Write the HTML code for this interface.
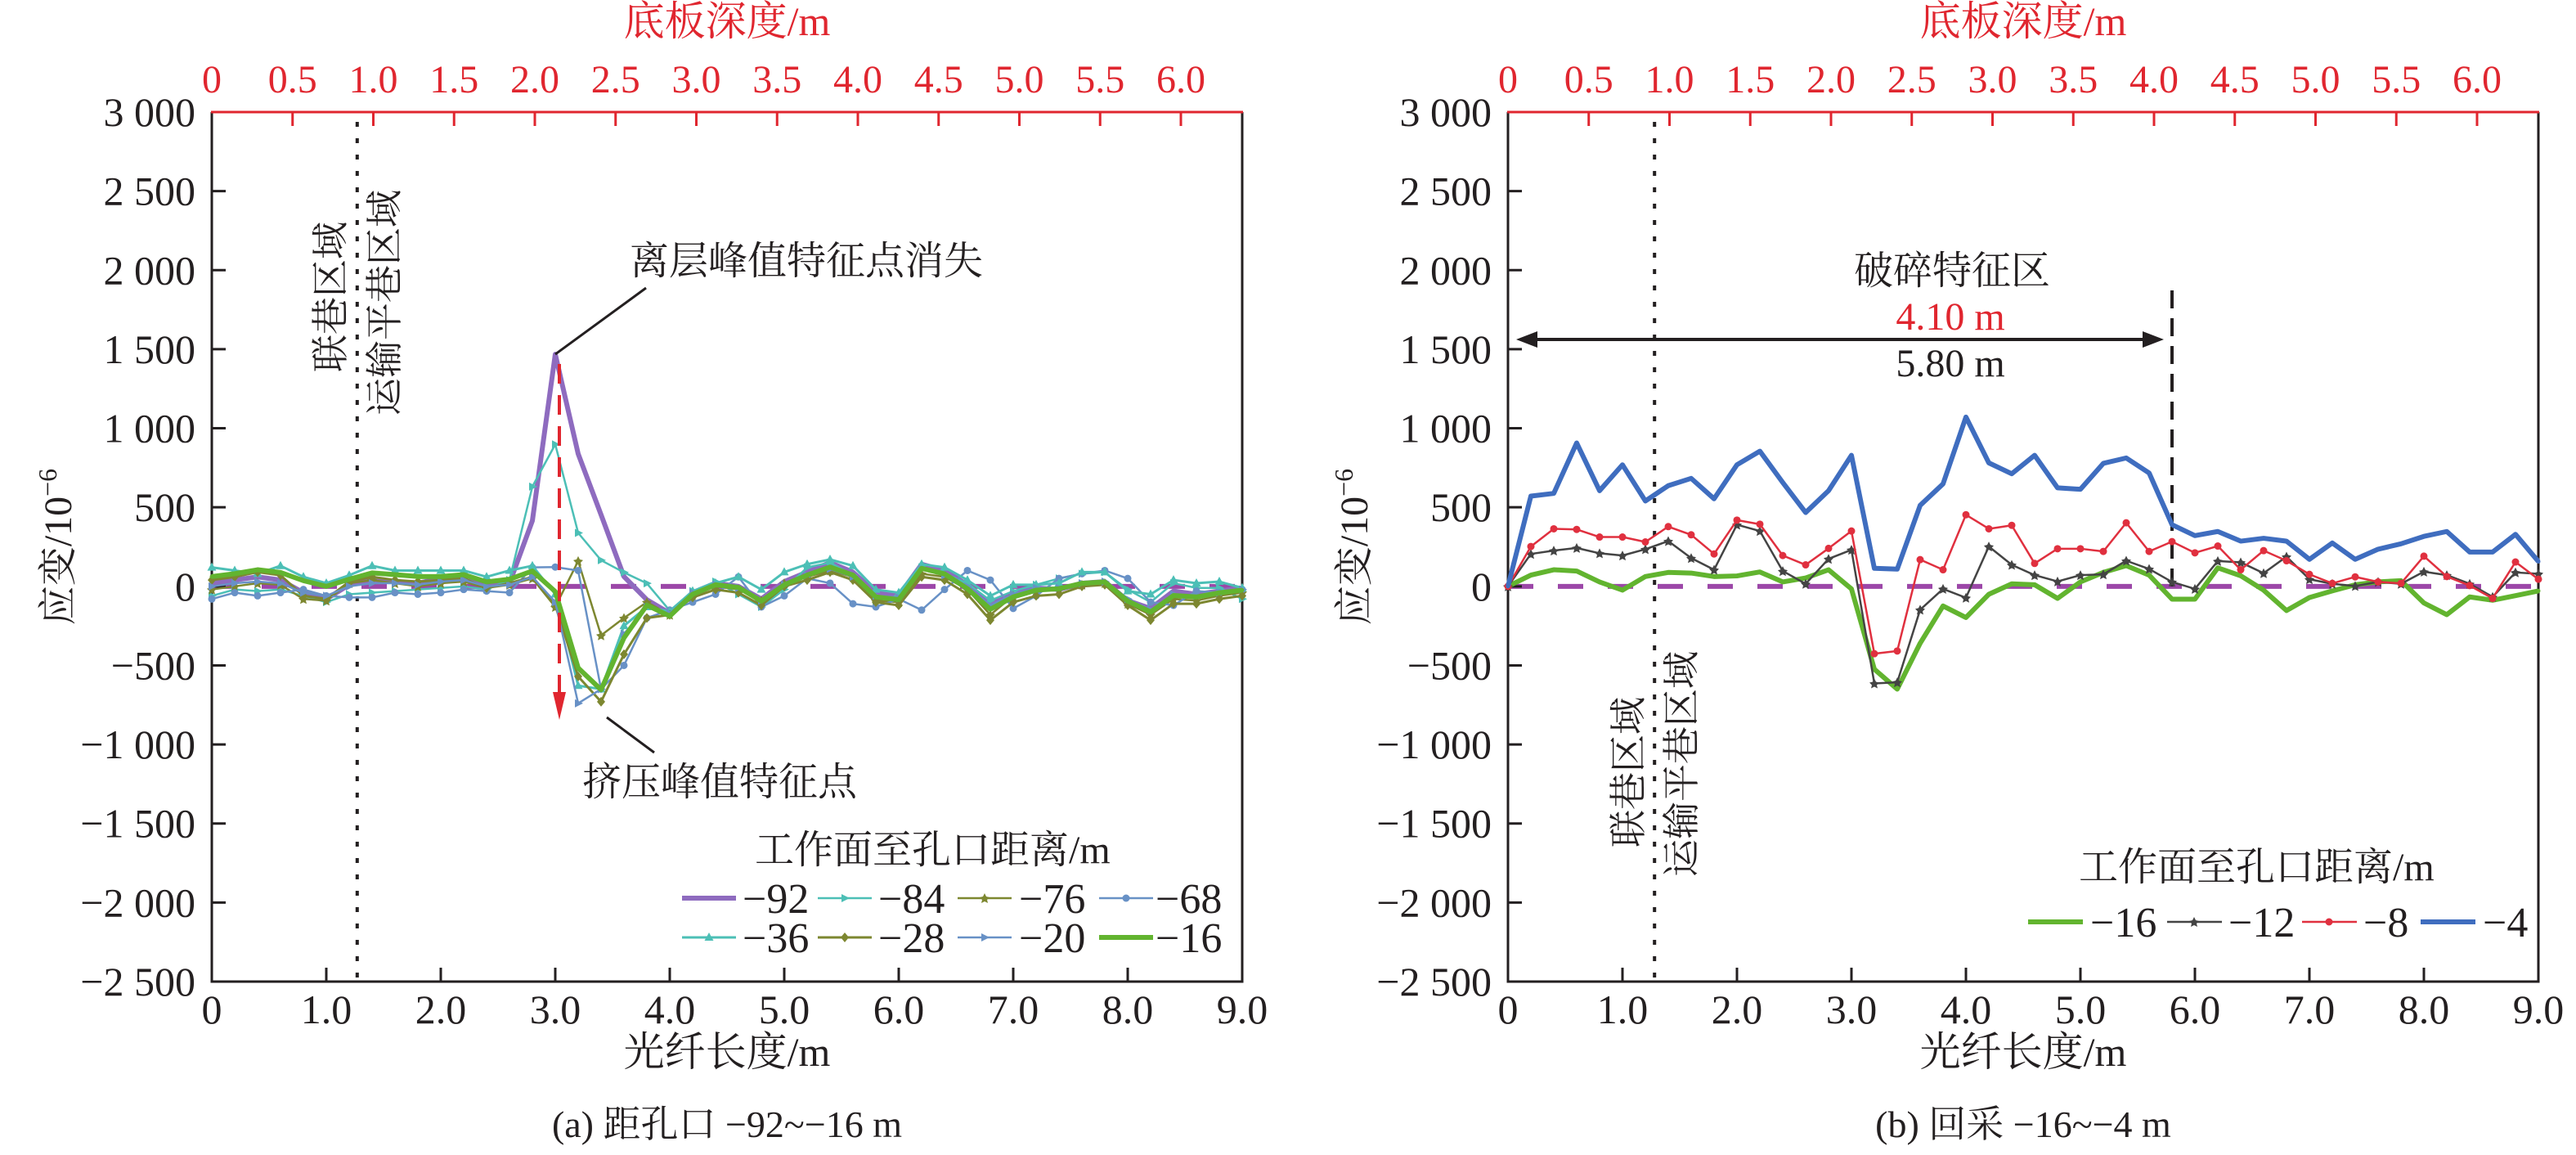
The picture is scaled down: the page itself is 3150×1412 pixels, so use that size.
<!DOCTYPE html>
<html><head><meta charset="utf-8">
<style>
html,body{margin:0;padding:0;background:#fff;}
svg{display:block;font-family:"Liberation Serif","Noto Serif CJK SC",serif;}
text{font-family:"Liberation Serif","Noto Serif CJK SC",serif;}
</style></head>
<body>
<svg id="chart" width="3150" height="1412" viewBox="0 0 3150 1412" xmlns="http://www.w3.org/2000/svg"></svg>
<script>
// ---------- data ----------
const fiberX = [];
for (let i = 0; i <= 45; i++) fiberX.push(+(i * 0.2).toFixed(1));
const xTicks = [0, 1, 2, 3, 4, 5, 6, 7, 8, 9];
const xTickLabels = ["0","1.0","2.0","3.0","4.0","5.0","6.0","7.0","8.0","9.0"];
const depthTicks = [0,0.5,1,1.5,2,2.5,3,3.5,4,4.5,5,5.5,6];
const depthTickLabels = ["0","0.5","1.0","1.5","2.0","2.5","3.0","3.5","4.0","4.5","5.0","5.5","6.0"];
const yTicks = [3000,2500,2000,1500,1000,500,0,-500,-1000,-1500,-2000,-2500];
const yTickLabels = ["3 000","2 500","2 000","1 500","1 000","500","0","\u2212500","\u22121 000","\u22121 500","\u22122 000","\u22122 500"];

const leftNames = ["\u221292","\u221284","\u221276","\u221268","\u221236","\u221228","\u221220","\u221216"];
const s92 = [20,40,60,40,-40,-80,10,40,30,20,50,60,20,20,415,1468,838,453,62,-85,-170,-40,20,0,-80,30,90,150,90,-40,-60,140,100,10,-110,-40,-10,-20,20,30,-90,-140,-30,-50,-30,-10];
const s84 = [-60,-20,-30,-20,-60,-100,-50,-40,-30,-20,-10,0,-20,40,631,898,338,165,88,19,-154,-30,30,-50,-130,-20,120,150,70,-90,-60,120,80,20,-90,-30,10,50,80,90,-20,-100,20,-10,-10,-80];
const s76 = [-20,0,20,10,-80,-90,20,40,20,0,20,30,-10,10,50,-130,160,-310,-200,-100,-180,-60,0,-20,-90,20,60,100,60,-90,-100,80,60,-20,-180,-60,-30,-20,10,20,-110,-180,-80,-90,-60,-40];
const s68 = [-80,-40,-60,-40,-20,-60,-70,-70,-40,-50,-40,-20,-30,-40,120,122,100,-650,-500,-200,-150,-100,-50,60,-130,-60,50,20,-110,-130,-80,-150,-20,100,40,-140,-60,50,80,100,50,-100,-120,-30,-40,-20];
const s36 = [120,100,80,130,60,20,70,130,100,100,100,100,60,100,130,-50,-628,-650,-250,-130,-160,-30,20,60,-20,90,140,170,130,-20,-40,140,120,40,-60,10,10,20,90,90,-30,-50,40,20,30,-10];
const s28 = [40,60,90,70,-60,-80,30,60,40,30,40,50,-10,20,60,-120,-570,-730,-430,-200,-180,-70,-20,-40,-120,0,40,90,40,-100,-120,60,40,-50,-214,-100,-60,-50,0,10,-120,-214,-110,-110,-80,-60];
const s20 = [0,20,30,20,-40,-60,0,20,20,10,30,40,0,10,60,-100,-740,-650,-300,-130,-170,-40,10,-10,-90,10,70,110,60,-60,-70,110,70,0,-120,-50,-10,-10,20,30,-80,-150,-50,-60,-40,-20];
const s16a = [62,80,105,88,36,0,45,85,74,62,62,74,28,45,97,-33,-516,-654,-326,-119,-188,-50,10,-7,-93,10,71,122,71,-67,-84,114,79,-15,-145,-67,-24,-15,19,28,-93,-162,-58,-67,-41,-24];

const rightNames = ["\u221216","\u221212","\u22128","\u22124"];
const r16 = [0,71,105,97,28,-24,62,88,84,62,66,91,28,53,105,-16,-524,-650,-360,-124,-197,-50,16,10,-76,28,88,131,71,-81,-81,117,67,-24,-153,-71,-29,10,28,36,-105,-179,-67,-88,-59,-29];
const r12 = [0,205,226,243,209,195,235,286,179,105,390,350,97,16,174,231,-614,-607,-148,-16,-72,252,136,71,31,71,76,162,110,28,-16,160,152,83,188,45,16,2,28,16,93,71,16,-67,88,79];
const r8 = [0,252,364,360,312,312,281,378,326,205,419,393,195,136,240,350,-426,-409,169,105,453,364,386,145,238,238,221,402,221,283,212,255,105,226,162,76,19,60,28,19,191,62,5,-76,154,45];
const r4 = [0,571,588,907,605,769,540,637,683,554,769,855,657,467,605,829,114,109,512,648,1071,781,712,829,623,614,778,812,717,390,321,347,286,304,286,171,274,171,235,269,316,347,217,217,329,157];

// ---------- helpers ----------
const NS = "http://www.w3.org/2000/svg";
const FONT = '"Liberation Serif","Noto Serif CJK SC",serif';
const svg = document.getElementById("chart");
function mk(tag, attrs, parent, text) {
  const e = document.createElementNS(NS, tag);
  for (const k in attrs) e.setAttribute(k, attrs[k]);
  if (tag === "text") e.setAttribute("font-family", FONT);
  if (text !== undefined) e.textContent = text;
  (parent || svg).appendChild(e);
  return e;
}
const Y_TOP = 137, Y_BOT = 1200;
function yS(v) { return Y_BOT - (v + 2500) / 5500 * (Y_BOT - Y_TOP); }

function buildPanel(x0, panelName) {
  const W = 1260;
  const xS = v => x0 + v / 9 * W;
  const dS = d => x0 + d * 197.5;
  const g = mk("g", {});
  
  
  const z = mk("line", {x1: x0, x2: x0 + W, y1: yS(0), y2: yS(0), stroke: "#9c47a8", "stroke-width": 6, "stroke-dasharray": "31 30"}, g);
  
  
  const ax = mk("path", {d: `M${x0} ${Y_TOP} V${Y_BOT} H${x0 + W} V${Y_TOP}`, fill: "none", stroke: "#231f20", "stroke-width": 3}, g);
  
  
  const top = mk("line", {x1: x0 - 1, x2: x0 + W + 1, y1: Y_TOP, y2: Y_TOP, stroke: "#e0262f", "stroke-width": 3}, g);
  
  
  yTicks.forEach((v, i) => {
    const y = yS(v);
    if (i > 0 && i < yTicks.length - 1) mk("line", {x1: x0, x2: x0 + 17, y1: y, y2: y, stroke: "#231f20", "stroke-width": 3}, g);
    const t = mk("text", {x: x0 - 20, y: y + 17, "text-anchor": "end", "font-size": 50, fill: "#231f20"}, g, yTickLabels[i]);
    
    
  });
  xTicks.forEach((v, i) => {
    const x = xS(v);
    if (i > 0 && i < xTicks.length - 1) mk("line", {x1: x, x2: x, y1: Y_BOT, y2: Y_BOT - 17, stroke: "#231f20", "stroke-width": 3}, g);
    const t = mk("text", {x: x, y: Y_BOT + 51, "text-anchor": "middle", "font-size": 50, fill: "#231f20"}, g, xTickLabels[i]);
    
    
  });
  depthTicks.forEach((d, i) => {
    const x = dS(d);
    if (i > 0) mk("line", {x1: x, x2: x, y1: Y_TOP, y2: Y_TOP + 17, stroke: "#e0262f", "stroke-width": 3}, g);
    const t = mk("text", {x: x, y: 113, "text-anchor": "middle", "font-size": 48, fill: "#e0262f"}, g, depthTickLabels[i]);
    
    
  });
  const tt = mk("text", {x: x0 + 630, y: 43, "text-anchor": "middle", "font-size": 50, fill: "#e0262f"}, g, "底板深度/m");
  
  
  const xt = mk("text", {x: x0 + 630, y: 1303, "text-anchor": "middle", "font-size": 50, fill: "#231f20"}, g, "光纤长度/m");
  
  
  const yt = mk("text", {x: 0, y: 0, "text-anchor": "middle", "font-size": 48, fill: "#231f20", transform: `translate(${x0 - 172},${yS(250)}) rotate(-90)`}, g);
  
  
  mk("tspan", {}, yt, "应变/10");
  mk("tspan", {dy: -18, "font-size": 32}, yt, "\u22126");
  return {g, xS};
}

function series(p, data, color, width, marker, name) {
  const pts = data.map((v, i) => [p.xS(fiberX[i]), yS(v)]);
  const pl = mk("polyline", {points: pts.map(q => q.join(",")).join(" "), fill: "none", stroke: color, "stroke-width": width, "stroke-linejoin": "round"}, p.g);
  
  
  pts.forEach(q => drawMarker(p.g, q[0], q[1], marker, color));
}
function drawMarker(g, x, y, m, c) {
  if (m === "circle") mk("circle", {cx: x, cy: y, r: 4.5, fill: c}, g);
  else if (m === "tri") mk("path", {d: `M${x} ${y-6} L${x+5.5} ${y+4} L${x-5.5} ${y+4}Z`, fill: c}, g);
  else if (m === "diamond") mk("path", {d: `M${x} ${y-6} L${x+5} ${y} L${x} ${y+6} L${x-5} ${y}Z`, fill: c}, g);
  else if (m === "right") mk("path", {d: `M${x+6} ${y} L${x-4} ${y-5} L${x-4} ${y+5}Z`, fill: c}, g);
  else if (m === "star") mk("path", {d: `M${x} ${y-6} L${x+2} ${y-2} L${x+6} ${y-1} L${x+3} ${y+2} L${x+4} ${y+6} L${x} ${y+4} L${x-4} ${y+6} L${x-3} ${y+2} L${x-6} ${y-1} L${x-2} ${y-2}Z`, fill: c}, g);
  else if (m === "dot") mk("circle", {cx: x, cy: y, r: 2.5, fill: c}, g);
}

// ---------- left panel ----------
const L = buildPanel(259, "panel-a");
const lx = L.xS;
const dv = mk("line", {x1: lx(1.27), x2: lx(1.27), y1: Y_TOP + 12, y2: Y_BOT, stroke: "#231f20", "stroke-width": 4, "stroke-dasharray": "6 14"}, L.g);


const leftSeries = [
  [s92, "#8e6bbf", 6, "dot"], [s84, "#4cbfb6", 2.5, "right"], [s76, "#7d8730", 2.5, "star"], [s68, "#6891c6", 2.5, "circle"],
  [s36, "#4cbfb6", 3, "tri"], [s28, "#7d8730", 3, "diamond"], [s20, "#6891c6", 2.5, "right"], [s16a, "#62b42f", 6, "dot"]
];
leftSeries.forEach((s, i) => series(L, s[0], s[1], s[2], s[3], "series-" + leftNames[i].replace("\u2212", "minus")));

const v1 = mk("text", {x: 0, y: 0, "font-size": 46, fill: "#231f20", transform: `translate(420,455) rotate(-90)`}, L.g, "联巷区域");


const v2 = mk("text", {x: 0, y: 0, "font-size": 46, fill: "#231f20", transform: `translate(486,508) rotate(-90)`}, L.g, "运输平巷区域");


const pk = [lx(3.0), yS(1468)];
mk("line", {x1: pk[0], y1: pk[1], x2: 790, y2: 352, stroke: "#231f20", "stroke-width": 3}, L.g);
const a1 = mk("text", {x: 770, y: 335, "font-size": 48, fill: "#231f20"}, L.g, "离层峰值特征点消失");


const arr = mk("line", {x1: 684, x2: 684, y1: 445, y2: 850, stroke: "#e0262f", "stroke-width": 4, "stroke-dasharray": "24 14"}, L.g);


mk("path", {d: "M676 846 L692 846 L684 880Z", fill: "#e0262f"}, L.g);
mk("line", {x1: 742, y1: 877, x2: 800, y2: 920, stroke: "#231f20", "stroke-width": 3}, L.g);
const a2 = mk("text", {x: 712, y: 972, "font-size": 48, fill: "#231f20"}, L.g, "挤压峰值特征点");



const lg = mk("g", {});


mk("text", {x: 923, y: 1055, "font-size": 48, fill: "#231f20"}, lg, "工作面至孔口距离/m");
const colX = [[834, 908], [1000, 1074], [1171, 1246], [1344, 1413]];
leftSeries.forEach((s, i) => {
  const r = Math.floor(i / 4), c = i % 4;
  const y = r ? 1146 : 1098;
  const e = mk("g", {}, lg);
  
  
  mk("line", {x1: colX[c][0], x2: colX[c][0] + 66, y1: y, y2: y, stroke: s[1], "stroke-width": s[2]}, e);
  drawMarker(e, colX[c][0] + 33, y, s[3], s[1]);
  mk("text", {x: colX[c][1], y: y + 18, "font-size": 52, fill: "#231f20"}, e, leftNames[i]);
});
const capA = mk("text", {x: 889, y: 1390, "text-anchor": "middle", "font-size": 46, fill: "#231f20"}, svg, "(a) 距孔口 \u221292~\u221216 m");



// ---------- right panel ----------
const R = buildPanel(1844, "panel-b");
const rx = R.xS;
const dv2 = mk("line", {x1: rx(1.28), x2: rx(1.28), y1: Y_TOP + 12, y2: Y_BOT, stroke: "#231f20", "stroke-width": 4, "stroke-dasharray": "6 14"}, R.g);


const dv3 = mk("line", {x1: rx(5.8), x2: rx(5.8), y1: 355, y2: yS(0), stroke: "#231f20", "stroke-width": 4, "stroke-dasharray": "22 12"}, R.g);


const rightSeries = [[r16, "#62b42f", 6, "dot"], [r12, "#444444", 2.5, "star"], [r8, "#e0303f", 2.5, "circle"], [r4, "#3f6dbf", 6, "dot"]];
rightSeries.forEach((s, i) => series(R, s[0], s[1], s[2], s[3], "series-" + rightNames[i].replace("\u2212", "minus")));

const v3 = mk("text", {x: 0, y: 0, "font-size": 46, fill: "#231f20", transform: `translate(2007,1036) rotate(-90)`}, R.g, "联巷区域");


const v4 = mk("text", {x: 0, y: 0, "font-size": 46, fill: "#231f20", transform: `translate(2072,1072) rotate(-90)`}, R.g, "运输平巷区域");


const fz = mk("text", {x: 2387, y: 347, "text-anchor": "middle", "font-size": 48, fill: "#231f20"}, R.g, "破碎特征区");


const d41 = mk("text", {x: 2385, y: 403, "text-anchor": "middle", "font-size": 48, fill: "#e0262f"}, R.g, "4.10 m");


const d58 = mk("text", {x: 2385, y: 460, "text-anchor": "middle", "font-size": 48, fill: "#231f20"}, R.g, "5.80 m");


const da = mk("line", {x1: 1870, x2: rx(5.8) - 26, y1: 415, y2: 415, stroke: "#231f20", "stroke-width": 4}, R.g);


mk("path", {d: `M1854 415 L1880 405 L1880 425Z`, fill: "#231f20"}, R.g);
mk("path", {d: `M${rx(5.8) - 10} 415 L${rx(5.8) - 36} 405 L${rx(5.8) - 36} 425Z`, fill: "#231f20"}, R.g);

const lg2 = mk("g", {});


mk("text", {x: 2542, y: 1076, "font-size": 48, fill: "#231f20"}, lg2, "工作面至孔口距离/m");
const colX2 = [[2480, 2556], [2650, 2725], [2815, 2890], [2960, 3036]];
rightSeries.forEach((s, i) => {
  const y = 1127;
  const e = mk("g", {}, lg2);
  
  
  mk("line", {x1: colX2[i][0], x2: colX2[i][0] + 67, y1: y, y2: y, stroke: s[1], "stroke-width": s[2]}, e);
  drawMarker(e, colX2[i][0] + 33, y, s[3], s[1]);
  mk("text", {x: colX2[i][1], y: y + 18, "font-size": 52, fill: "#231f20"}, e, rightNames[i]);
});
const capB = mk("text", {x: 2474, y: 1390, "text-anchor": "middle", "font-size": 46, fill: "#231f20"}, svg, "(b) 回采 \u221216~\u22124 m");


</script>
</body></html>
